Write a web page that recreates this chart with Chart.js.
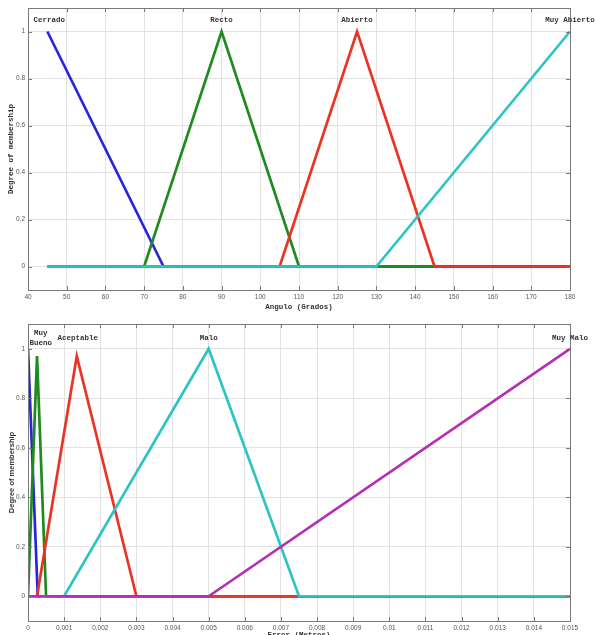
<!DOCTYPE html>
<html>
<head>
<meta charset="utf-8">
<script src="https://cdn.jsdelivr.net/npm/chart.js@4"></script>
<style>
  html, body { margin: 0; padding: 0; background: #fff; overflow: hidden; }
  #wrap { position: relative; width: 595px; height: 635px; overflow: hidden; }
  #chartAngle { position: absolute; left: 0; top: 0; }
  #chartError { position: absolute; left: 0; top: 316px; }
</style>
</head>
<body>
<div id="wrap">
  <canvas id="chartAngle" width="595" height="318"></canvas>
  <canvas id="chartError" width="595" height="334"></canvas>
</div>
<script>
// --- top chart: Angulo (Grados) ---
const angleTicks = [40, 50, 60, 70, 80, 90, 100, 110, 120, 130, 140, 150, 160, 170, 180];
const membershipTicks = [0, 0.2, 0.4, 0.6, 0.8, 1];

const cerradoX = [45, 75, 180];
const cerradoY = [1, 0, 0];
const rectoX = [45, 70, 90, 110, 180];
const rectoY = [0, 0, 1, 0, 0];
const abiertoX = [45, 105, 125, 145, 180];
const abiertoY = [0, 0, 1, 0, 0];
const muyAbiertoX = [45, 130, 180];
const muyAbiertoY = [0, 0, 1];

const angleNames = ["Cerrado", "Recto", "Abierto", "Muy Abierto"];
const angleNameX = [45.5, 90, 125, 180];

// --- bottom chart: error ---
const errorTickLabels = ["0", "0.001", "0.002", "0.003", "0.004", "0.005", "0.006", "0.007",
  "0.008", "0.009", "0.01", "0.011", "0.012", "0.013", "0.014", "0.015"];

const excelenteX = [0, 0.00027, 0.015];
const excelenteY = [1, 0, 0];
const muyBuenoX = [0, 0.00025, 0.0005, 0.015];
const muyBuenoY = [0, 0.97, 0, 0];
const aceptableX = [0, 0.00025, 0.00135, 0.003, 0.015];
const aceptableY = [0, 0, 0.97, 0, 0];
const maloX = [0, 0.001, 0.005, 0.0075, 0.015];
const maloY = [0, 0, 1, 0, 0];
const muyMaloX = [0, 0.005, 0.015];
const muyMaloY = [0, 0, 1];

const errorNames = ["Muy\nBueno", "Aceptable", "Malo", "Muy Malo"];
const errorNameX = [0.00035, 0.00138, 0.005, 0.015];

const toPoints = (xs, ys) => xs.map((x, i) => ({ x: x, y: ys[i] }));

const mfLine = (xs, ys, color, order) => ({
  data: toPoints(xs, ys),
  borderColor: color,
  borderWidth: 2.7,
  pointRadius: 0,
  tension: 0,
  fill: false,
  order: order,
});

// box round the plot with small inward ticks, like the matlab axes
const boxPlugin = {
  id: "box",
  afterDatasetsDraw(chart) {
    const { ctx, chartArea: a, scales } = chart;
    ctx.save();
    ctx.strokeStyle = "#7a7a7a";
    ctx.lineWidth = 1;
    ctx.strokeRect(a.left + 0.5, a.top + 0.5, a.right - a.left, a.bottom - a.top);
    ctx.beginPath();
    scales.x.ticks.forEach((t) => {
      const px = Math.round(scales.x.getPixelForValue(t.value)) + 0.5;
      ctx.moveTo(px, a.bottom); ctx.lineTo(px, a.bottom - 4);
      ctx.moveTo(px, a.top); ctx.lineTo(px, a.top + 4);
    });
    scales.y.ticks.forEach((t) => {
      const py = Math.round(scales.y.getPixelForValue(t.value)) + 0.5;
      ctx.moveTo(a.left, py); ctx.lineTo(a.left + 4, py);
      ctx.moveTo(a.right, py); ctx.lineTo(a.right - 4, py);
    });
    ctx.stroke();
    ctx.restore();
  },
};

// names written above each membership function
const mfLabelsPlugin = {
  id: "mfLabels",
  afterDatasetsDraw(chart, args, opts) {
    if (!opts || !opts.names) return;
    const { ctx, scales } = chart;
    ctx.save();
    ctx.font = "bold 7.5px 'Liberation Mono'";
    ctx.fillStyle = "#333";
    ctx.textAlign = "center";
    ctx.textBaseline = "middle";
    opts.names.forEach((name, i) => {
      const px = scales.x.getPixelForValue(opts.xs[i]);
      const py = scales.y.getPixelForValue(opts.y);
      const lines = name.split("\n");
      lines.forEach((line, j) => {
        ctx.fillText(line, px, py + (j - (lines.length - 1) / 2) * 10);
      });
    });
    ctx.restore();
  },
};

const tickFont = { family: "'Liberation Sans'", size: 6.5 };

const makeOptions = (xMin, xMax, xTicks, xFormat, xTitle, yTitleFont, xAxisHeight, titlePad, labels) => ({
  responsive: false,
  animation: false,
  devicePixelRatio: 1,
  layout: { padding: { top: 8, right: 25, left: 0, bottom: 0 } },
  plugins: { legend: { display: false }, tooltip: { enabled: false }, mfLabels: labels },
  scales: {
    x: {
      type: "linear",
      min: xMin,
      max: xMax,
      afterBuildTicks: (scale) => { scale.ticks = xTicks.map((v) => ({ value: v })); },
      afterFit: (scale) => { scale.height = xAxisHeight; },
      grid: { color: "#e2e2e2", drawTicks: false },
      border: { display: false },
      ticks: { font: tickFont, color: "#555", padding: 3, maxRotation: 0, autoSkip: false, callback: xFormat },
      title: { display: true, text: xTitle, font: { family: "'Liberation Mono'", weight: "bold", size: 7.5 }, color: "#333", padding: { bottom: titlePad } },
    },
    y: {
      type: "linear",
      min: -0.1,
      max: 1.1,
      afterBuildTicks: (scale) => { scale.ticks = membershipTicks.map((v) => ({ value: v })); },
      afterFit: (scale) => { scale.width = 28; },
      grid: { color: "#e2e2e2", drawTicks: false },
      border: { display: false },
      ticks: { font: tickFont, color: "#555", padding: 3, callback: (v) => String(v) },
      title: { display: true, text: "Degree of membership", font: yTitleFont, color: "#333", padding: { top: 7 } },
    },
  },
});

new Chart(document.querySelector("#chartAngle"), {
  type: "line",
  data: {
    datasets: [
      mfLine(cerradoX, cerradoY, "#2626dc", 4),
      mfLine(rectoX, rectoY, "#1f8a1f", 3),
      mfLine(abiertoX, abiertoY, "#ec3222", 2),
      mfLine(muyAbiertoX, muyAbiertoY, "#2ec4c4", 1),
    ],
  },
  options: makeOptions(40, 180, angleTicks, (v) => String(v), "Angulo (Grados)",
    { family: "'Liberation Mono'", weight: "bold", size: 7.5 }, 28, 6,
    { names: angleNames, xs: angleNameX, y: 1.047 }),
  plugins: [boxPlugin, mfLabelsPlugin],
});

const errorTicks = errorTickLabels.map((s) => Number(s));
new Chart(document.querySelector("#chartError"), {
  type: "line",
  data: {
    datasets: [
      mfLine(excelenteX, excelenteY, "#2626dc", 5),
      mfLine(muyBuenoX, muyBuenoY, "#1f8a1f", 4),
      mfLine(aceptableX, aceptableY, "#ec3222", 3),
      mfLine(maloX, maloY, "#2ec4c4", 2),
      mfLine(muyMaloX, muyMaloY, "#b42fb4", 1),
    ],
  },
  options: makeOptions(0, 0.015, errorTicks,
    (v) => { const i = errorTicks.indexOf(v); return i >= 0 ? errorTickLabels[i] : String(v); },
    "Error (Metros)",
    { family: "'Liberation Sans'", weight: "bold", size: 7.5 }, 29, 10,
    { names: errorNames, xs: errorNameX, y: 1.044 }),
  plugins: [boxPlugin, mfLabelsPlugin],
});
</script>
</body>
</html>
